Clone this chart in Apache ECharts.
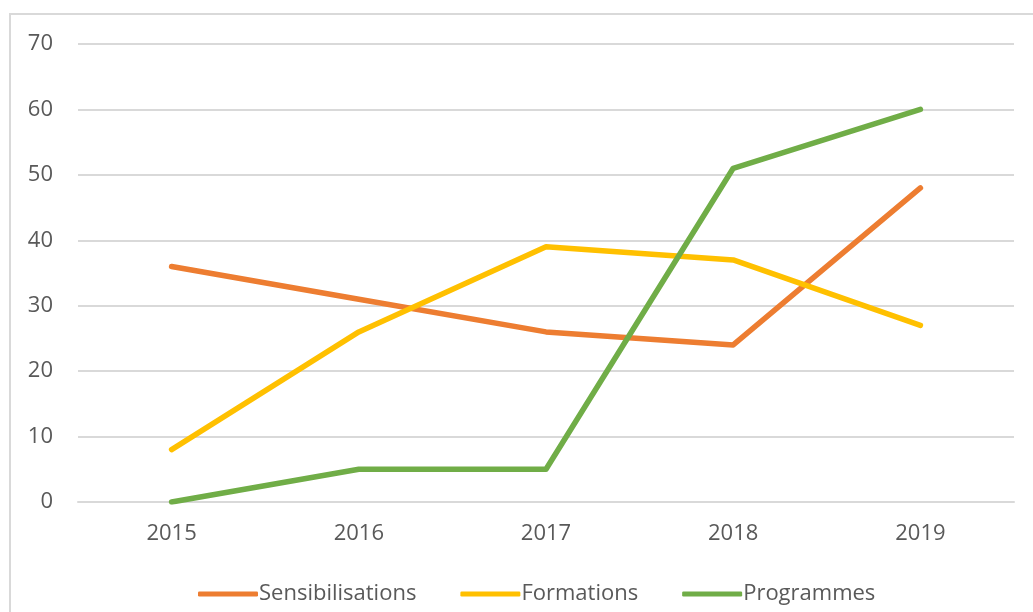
<!DOCTYPE html>
<html>
<head>
<meta charset="utf-8">
<script src="https://cdn.jsdelivr.net/npm/echarts@6/dist/echarts.min.js"></script>
<style>
    html, body { margin: 0; padding: 0; background: #fff; }
    .frame {
        position: absolute;
        left: 9px;
        top: 13px;
        width: 1040px;
        height: 620px;
        border: 2px solid #d9d9d9;
        box-sizing: border-box;
    }
    #chart {
        position: absolute;
        left: 0;
        top: 0;
        width: 1033px;
        height: 612px;
    }
</style>
</head>
<body>
<div class="frame"></div>
<div id="chart"></div>
<script>
    const years = ['2015', '2016', '2017', '2018', '2019']
    const sensibilisations = [36, 31, 26, 24, 48]
    const formations = [8, 26, 39, 37, 27]
    const programmes = [0, 5, 5, 51, 60]
    const yTicks = { min: 0, max: 70, interval: 10 }

    const font = '"Open Sans", sans-serif'
    const textColor = '#595959'

    const chart = echarts.init(document.getElementById('chart'))

    const makeSeries = (name, data, color) => ({
        name: name,
        type: 'line',
        data: data,
        showSymbol: false,
        symbol: 'none',
        lineStyle: { width: 5.5, color: color, cap: 'round', join: 'round' },
        itemStyle: { color: color },
        z: 3
    })

    const option = {
        animation: false,
        grid: {
            left: 78,
            right: 19,
            top: 44,
            bottom: 110
        },
        legend: {
            bottom: 2,
            left: 193,
            itemWidth: 60,
            itemHeight: 5,
            itemGap: 44,
            icon: 'roundRect',
            textStyle: { color: textColor, fontSize: 22, fontFamily: font, padding: [0, 0, 0, -4] },
            data: ['Sensibilisations', 'Formations', 'Programmes']
        },
        xAxis: {
            type: 'category',
            data: years,
            boundaryGap: true,
            axisLine: { lineStyle: { color: '#d9d9d9', width: 2 } },
            axisTick: { show: false },
            axisLabel: { color: textColor, fontSize: 22, fontFamily: font, margin: 21 }
        },
        yAxis: {
            type: 'value',
            min: yTicks.min,
            max: yTicks.max,
            interval: yTicks.interval,
            axisLine: { show: false },
            axisTick: { show: false },
            axisLabel: { color: textColor, fontSize: 22, fontFamily: font, margin: 25 },
            splitLine: { lineStyle: { color: '#d9d9d9', width: 2 } }
        },
        series: [
            makeSeries('Sensibilisations', sensibilisations, '#ed7d31'),
            makeSeries('Formations', formations, '#ffc000'),
            makeSeries('Programmes', programmes, '#70ad47')
        ]
    }

    chart.setOption(option)
</script>
</body>
</html>
